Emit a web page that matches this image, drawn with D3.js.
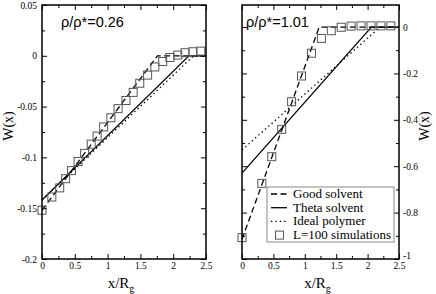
<!DOCTYPE html>
<html>
<head>
<meta charset="utf-8">
<script src="https://cdn.jsdelivr.net/npm/d3@7/dist/d3.min.js"></script>
<style>
  html, body { margin: 0; padding: 0; background: #fff; }
  svg { display: block; }
</style>
</head>
<body>
<div id="chart"></div>
<script>
// W(x) profiles, two densities side by side.

// left panel, rho/rho* = 0.26
const goodX1 = [0, 1.76, 2.5];
const goodY1 = [-0.152, 0, 0];
const thetaX1 = [0, 2.24, 2.5];
const thetaY1 = [-0.142, 0, 0];
const idealX1 = [0, 2.31, 2.5];
const idealY1 = [-0.142, 0, 0];
const simX1 = [0, 0.15, 0.27, 0.36, 0.45, 0.55, 0.65, 0.75, 0.84, 0.94, 1.05, 1.16,
               1.28, 1.39, 1.49, 1.61, 1.72, 1.84, 1.95, 2.07, 2.18, 2.30, 2.42];
const simY1 = [-0.152, -0.139, -0.130, -0.121, -0.113, -0.104, -0.096, -0.087, -0.079,
               -0.070, -0.061, -0.052, -0.044, -0.036, -0.027, -0.019, -0.011, -0.0056,
               -0.0017, 0.0007, 0.003, 0.004, 0.0046];

// right panel, rho/rho* = 1.01
const goodX2 = [0, 1.23, 2.5];
const goodY2 = [-0.915, 0, 0];
const thetaX2 = [0, 2.06, 2.5];
const thetaY2 = [-0.63, 0, 0];
const idealX2 = [0, 2.2, 2.5];
const idealY2 = [-0.53, 0, 0];
const simX2 = [0, 0.316, 0.474, 0.632, 0.79, 0.948, 1.106, 1.264, 1.422, 1.58,
               1.738, 1.896, 2.054, 2.212, 2.37];
const simY2 = [-0.908, -0.674, -0.559, -0.441, -0.322, -0.211, -0.113, -0.049, -0.016,
               -0.001, 0.004, 0.005, 0.005, 0.005, 0.005];

const xTicks = [0, 0.5, 1, 1.5, 2, 2.5];
const xMinor = [0.25, 0.75, 1.25, 1.75, 2.25];
const yTicks1 = [0.05, 0, -0.05, -0.1, -0.15, -0.2];
const yMinor1 = [0.025, -0.025, -0.075, -0.125, -0.175];
const yTicks2 = [0, -0.2, -0.4, -0.6, -0.8, -1];
const yMinor2 = [-0.1, -0.3, -0.5, -0.7, -0.9];

const legendLabels = ["Good solvent", "Theta solvent", "Ideal polymer", "L=100 simulations"];

const W = 436, H = 294;
const SERIF = "Liberation Serif";
const SANS = "Liberation Sans";
const DASH = "6,3.5", DOT = "1.4,3";

const svg = d3.select("#chart").append("svg")
  .attr("width", W).attr("height", H)
  .attr("viewBox", `0 0 ${W} ${H}`);
svg.append("rect").attr("width", W).attr("height", H).attr("fill", "#fff");

const fmt = d => d === 0 ? "0" : String(+d.toFixed(2));

function panel(opt) {
  const x = d3.scaleLinear().domain([0, 2.5]).range([opt.left, opt.right]);
  const y = d3.scaleLinear().domain(opt.yDomain).range([opt.bottom, opt.top]);
  const g = svg.append("g");

  const styleAxis = sel => {
    sel.attr("font-family", SERIF).attr("font-size", 9.5);
    sel.select(".domain").remove();
    sel.selectAll("line").attr("stroke", "#000").attr("stroke-width", 1);
    sel.selectAll("text").style("font-family", SERIF).style("font-size", "9.5px").attr("fill", "#000");
  };

  // bottom / top
  g.append("g").attr("transform", `translate(0,${opt.bottom})`)
    .call(d3.axisBottom(x).tickValues(xTicks).tickSize(-5).tickPadding(3).tickFormat(fmt))
    .call(styleAxis);
  g.append("g").attr("transform", `translate(0,${opt.bottom})`)
    .call(d3.axisBottom(x).tickValues(xMinor).tickSize(-3).tickFormat(""))
    .call(styleAxis);
  g.append("g").attr("transform", `translate(0,${opt.top})`)
    .call(d3.axisTop(x).tickValues(xTicks).tickSize(-5).tickFormat(""))
    .call(styleAxis);
  g.append("g").attr("transform", `translate(0,${opt.top})`)
    .call(d3.axisTop(x).tickValues(xMinor).tickSize(-3).tickFormat(""))
    .call(styleAxis);

  // left / right
  const labelLeft = opt.labelSide === "left";
  g.append("g").attr("transform", `translate(${opt.left},0)`)
    .call(d3.axisLeft(y).tickValues(opt.yTicks).tickSize(-5).tickPadding(5)
      .tickFormat(labelLeft ? fmt : ""))
    .call(styleAxis);
  g.append("g").attr("transform", `translate(${opt.left},0)`)
    .call(d3.axisLeft(y).tickValues(opt.yMinor).tickSize(-3).tickFormat(""))
    .call(styleAxis);
  const ra = g.append("g").attr("transform", `translate(${opt.right},0)`)
    .call(d3.axisRight(y).tickValues(opt.yTicks).tickSize(-5).tickPadding(4)
      .tickFormat(labelLeft ? "" : fmt))
    .call(styleAxis);
  // lowest label sits raised above the x tick label, as in the original
  if (!labelLeft) ra.selectAll(".tick text").filter(d => d === -1).attr("dy", "-0.1em");
  g.append("g").attr("transform", `translate(${opt.right},0)`)
    .call(d3.axisRight(y).tickValues(opt.yMinor).tickSize(-3).tickFormat(""))
    .call(styleAxis);

  // curves
  const line = d3.line().x(d => x(d[0])).y(d => y(d[1]));
  const curve = (xs, ys, dash) => g.append("path")
    .datum(xs.map((v, i) => [v, ys[i]]))
    .attr("fill", "none").attr("stroke", "#000").attr("stroke-width", 1.3)
    .attr("stroke-dasharray", dash).attr("d", line);
  curve(opt.idealX, opt.idealY, DOT);
  curve(opt.thetaX, opt.thetaY, null);
  curve(opt.goodX, opt.goodY, DASH);

  g.append("g").selectAll("rect")
    .data(opt.simX.map((v, i) => [v, opt.simY[i]]))
    .join("rect")
    .attr("x", d => x(d[0]) - 4).attr("y", d => y(d[1]) - 4)
    .attr("width", 8).attr("height", 8)
    .attr("fill", "none").attr("stroke", "#555").attr("stroke-width", 1);

  // frame
  g.append("rect")
    .attr("x", opt.left).attr("y", opt.top)
    .attr("width", opt.right - opt.left).attr("height", opt.bottom - opt.top)
    .attr("fill", "none").attr("stroke", "#000").attr("stroke-width", 1.5);

  g.append("text")
    .attr("x", opt.left + opt.noteDx).attr("y", opt.top + 22)
    .style("font-family", SANS).style("font-size", "14.5px")
    .text(opt.note);

  // x label
  const xl = g.append("text")
    .attr("x", (opt.left + opt.right) / 2 - 3).attr("y", 288)
    .attr("text-anchor", "middle")
    .style("font-family", SERIF).style("font-size", "15px");
  xl.append("tspan").text("x/R");
  xl.append("tspan").style("font-size", "10px").attr("dy", 4).text("g");

  // y label
  const lx = labelLeft ? 13 : 429;
  g.append("text")
    .attr("transform", `translate(${lx},${(opt.top + opt.bottom) / 2 - 6}) rotate(-90)`)
    .attr("text-anchor", "middle")
    .style("font-family", SERIF).style("font-size", "14px")
    .text("W(x)");

  return { x, y, g };
}

panel({
  left: 42, right: 206, top: 5, bottom: 259,
  yDomain: [-0.2, 0.05], yTicks: yTicks1, yMinor: yMinor1, labelSide: "left",
  goodX: goodX1, goodY: goodY1, thetaX: thetaX1, thetaY: thetaY1,
  idealX: idealX1, idealY: idealY1, simX: simX1, simY: simY1,
  note: "ρ/ρ*=0.26", noteDx: 19
});

panel({
  left: 242, right: 399, top: 5, bottom: 259,
  yDomain: [-1, 0.095], yTicks: yTicks2, yMinor: yMinor2, labelSide: "right",
  goodX: goodX2, goodY: goodY2, thetaX: thetaX2, thetaY: thetaY2,
  idealX: idealX2, idealY: idealY2, simX: simX2, simY: simY2,
  note: "ρ/ρ*=1.01", noteDx: 4
});

// legend
const lg = svg.append("g").attr("transform", "translate(267,187)");
lg.append("rect").attr("width", 127).attr("height", 55)
  .attr("fill", "#fff").attr("stroke", "#888").attr("stroke-width", 1);
const styles = [DASH, null, DOT];
legendLabels.forEach((lab, i) => {
  const by = 11 + i * 13.7;
  if (i < 3) {
    lg.append("line").attr("x1", 4).attr("x2", 20).attr("y1", by - 4).attr("y2", by - 4)
      .attr("stroke", "#000").attr("stroke-width", 1.3).attr("stroke-dasharray", styles[i]);
  } else {
    lg.append("rect").attr("x", 8.5).attr("y", by - 8).attr("width", 8).attr("height", 8)
      .attr("fill", "none").attr("stroke", "#555");
  }
  lg.append("text").attr("x", 26).attr("y", by)
    .style("font-family", SERIF).style("font-size", "13px").text(lab);
});
</script>
</body>
</html>
